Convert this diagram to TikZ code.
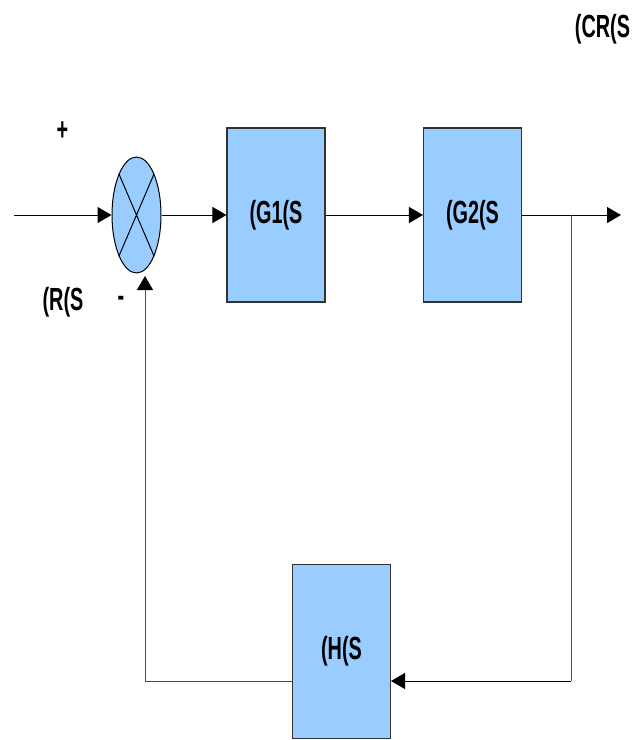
\documentclass[tikz,border=0pt]{standalone}
\usepackage{fontspec}
\setmainfont{Liberation Sans}
\newfontfamily\condfont[FakeStretch=0.62]{Liberation Sans}
\usetikzlibrary{shapes.geometric,arrows.meta}
\definecolor{boxblue}{HTML}{99CCFF}
\definecolor{edge}{HTML}{333333}
\tikzset{
  txt/.style={font=\condfont\bfseries\fontsize{24}{24}\selectfont},
  blk/.style={draw=edge,fill=boxblue,line width=0.8pt,minimum width=73.5pt,minimum height=130.5pt,inner sep=0pt,txt},
  lbl/.style={txt,inner sep=0pt},
  conn/.style={line width=0.75pt,-{Triangle[length=10.5pt,width=12pt,color=black]}},
  fb/.style={line width=0.75pt,draw=black!70}
}
\begin{document}
\begin{tikzpicture}[x=0.75pt,y=-0.75pt]
\useasboundingbox (0,0) rectangle (636,740);
\node[draw=black,fill=boxblue,ellipse,minimum width=36.75pt,minimum height=87pt,inner sep=0pt,line width=0.75pt] (sum) at (136.5,215) {};
\draw[line width=0.75pt] (sum.north west) -- (sum.south east) (sum.north east) -- (sum.south west);
\node[blk] (g1) at (276,215) {(G1(S};
\node[blk] (g2) at (472.5,215) {(G2(S};
\node[blk] (h) at (341.5,651.5) {(H(S};
\coordinate (in) at (14,215);
\coordinate (out) at (621,215);
\coordinate (br) at (571,215);
\coordinate (brd) at (571,681);
\coordinate (fl) at (145,681);
\coordinate (fu) at (145,276);
\draw[conn] (in) -- (sum.west);
\draw[conn] (sum.east) -- (g1.west);
\draw[conn] (g1.east) -- (g2.west);
\draw[conn] (g2.east) -- (out);
\draw[fb] (br) -- (brd);
\draw[conn] (brd) -- (h.east |- brd);
\draw[conn,draw=black!70] (h.west |- fl) -- (fl) -- (fu);
\node[lbl] (plus) at (62.5,131.5) {+};
\node[lbl] (minus) at (121,301) {-};
\node[lbl] (r) at (63,302) {(R(S};
\node[lbl] (cr) at (602.5,29) {(CR(S};
\end{tikzpicture}
\end{document}
